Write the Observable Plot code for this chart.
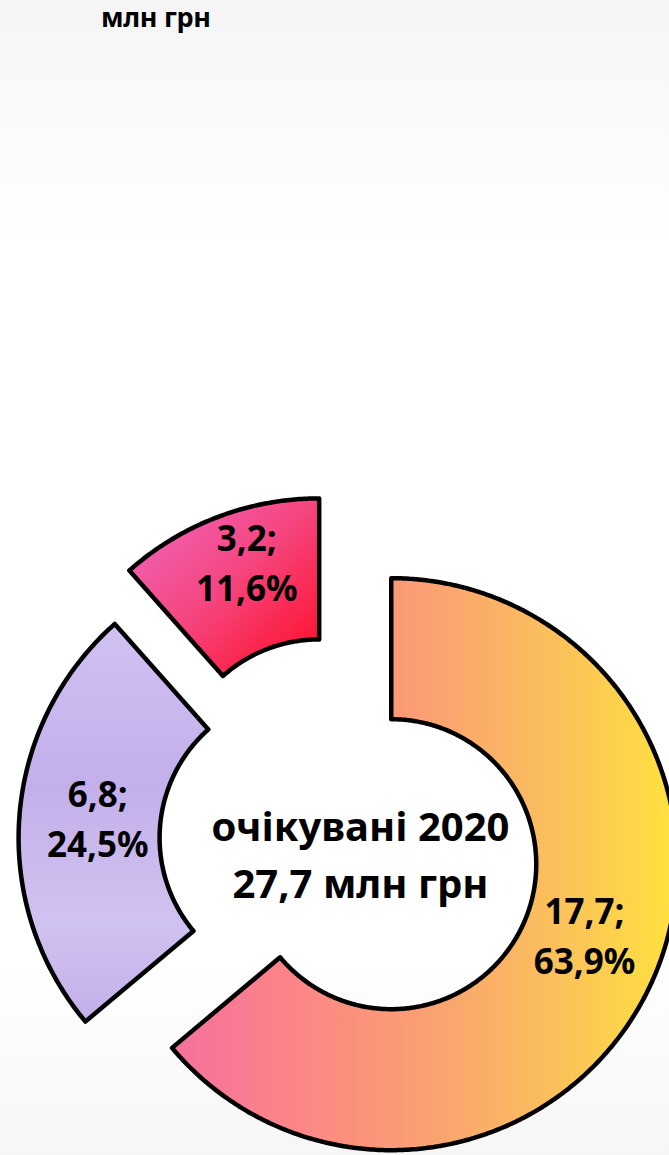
<!DOCTYPE html>
<html>
<head>
<meta charset="utf-8">
<script src="https://cdn.jsdelivr.net/npm/d3@7"></script>
<script src="https://cdn.jsdelivr.net/npm/@observablehq/plot@0.6"></script>
<style>
  html, body { margin: 0; padding: 0; }
  body {
    width: 669px; height: 1155px; overflow: hidden; position: relative;
    background: linear-gradient(#f5f5f5 0px, #fbfbfb 150px, #ffffff 260px, #ffffff 950px, #f6f6f6 1155px);
    font-family: "Noto Sans", sans-serif;
  }
  #chart { position: absolute; left: 0; top: 0; }
  #title { position: absolute; left: 101px; top: -2px; font-weight: 700; font-size: 27px; color: #000; letter-spacing: -0.3px; }
</style>
</head>
<body>
<div id="chart"></div>
<div id="title">млн грн</div>
<script>
// ---- data ----
const categories = ["Частка 1", "Частка 2", "Частка 3"];
const values = [17.7, 6.8, 3.2];          // млн грн
const shares = [63.9, 24.5, 11.6];        // %
const centerTitle = "очікувані 2020";
const unitLabel = "млн грн";

// ---- styles / layout ----
const W = 669, H = 1155;
const layout = {
  cx: 340, cy: 840, outer: 286, inner: 145,
  explode: [56, 36, 60],
  labelDx: [-2, 8, 4],
  labelDy: [-22, -6, -23]
};
const gradIds = ["gYellow", "gPurple", "gRed"];

const fmt = v => String(v).replace(".", ",");
const total = d3.sum(values);

// build slice outlines from values (angles clockwise from 12 o'clock)
let a0 = 0;
const slices = values.map((v, i) => {
  const a1 = a0 + v / total * 2 * Math.PI;
  const mid = (a0 + a1) / 2;
  const ox = layout.cx + layout.explode[i] * Math.sin(mid);
  const oy = layout.cy - layout.explode[i] * Math.cos(mid);
  const n = Math.max(8, Math.ceil((a1 - a0) / (Math.PI / 360)));
  const pts = [];
  for (let k = 0; k <= n; k++) {
    const a = a0 + (a1 - a0) * k / n;
    pts.push({x: ox + layout.outer * Math.sin(a), y: oy - layout.outer * Math.cos(a)});
  }
  for (let k = n; k >= 0; k--) {
    const a = a0 + (a1 - a0) * k / n;
    pts.push({x: ox + layout.inner * Math.sin(a), y: oy - layout.inner * Math.cos(a)});
  }
  pts.push(pts[0]);
  const rm = (layout.outer + layout.inner) / 2;
  const label = {
    x: ox + rm * Math.sin(mid) + layout.labelDx[i],
    y: oy - rm * Math.cos(mid) + layout.labelDy[i],
    text: `${fmt(values[i])};\n${fmt(shares[i])}%`,
    category: categories[i]
  };
  a0 = a1;
  return {pts, label};
});

const center = [{x: layout.cx, y: layout.cy, text: `${centerTitle}\n${fmt(total.toFixed(1))} ${unitLabel}`}];

const marks = slices.map((s, i) =>
  Plot.line(s.pts, {x: "x", y: "y", fill: `url(#${gradIds[i]})`, stroke: "#000", strokeWidth: 4.5, strokeLinejoin: "round", curve: "linear"})
);
marks.push(Plot.text(slices.map(s => s.label), {
  x: "x", y: "y", text: "text", fontSize: 35, fontWeight: 700, lineHeight: 1.43,
  fontFamily: "Noto Sans", fill: "#000"
}));
marks.push(Plot.text(center, {
  x: "x", y: "y", text: "text", fontSize: 40, fontWeight: 700, lineHeight: 1.42,
  fontFamily: "Noto Sans", fill: "#000", dx: 20, dy: 11
}));

const svg = Plot.plot({
  width: W, height: H, margin: 0,
  x: {domain: [0, W], range: [0, W], axis: null},
  y: {domain: [0, H], range: [0, H], axis: null},
  style: {background: "transparent", fontFamily: "Noto Sans"},
  marks
});

// gradient definitions
const defs = d3.select(svg).insert("defs", ":first-child");
function grad(id, x1, y1, x2, y2, stops) {
  const g = defs.append("linearGradient").attr("id", id)
    .attr("x1", x1).attr("y1", y1).attr("x2", x2).attr("y2", y2);
  stops.forEach(([o, c]) => g.append("stop").attr("offset", o).attr("stop-color", c));
}
grad("gYellow", 0, 0, 1, 0, [[0, "#f4709e"], [0.25, "#fc8686"], [0.5, "#faa072"], [0.75, "#fbbf5c"], [1, "#ffe23e"]]);
grad("gPurple", 0, 0, 0, 1, [[0, "#d0c1f2"], [0.4, "#c3afea"], [0.75, "#d0c2f0"], [1, "#c3afea"]]);
grad("gRed", 0, 0, 1, 1, [[0, "#ef6ac4"], [0.5, "#f5457e"], [1, "#ff0a20"]]);

document.getElementById("chart").appendChild(svg);
</script>
</body>
</html>
